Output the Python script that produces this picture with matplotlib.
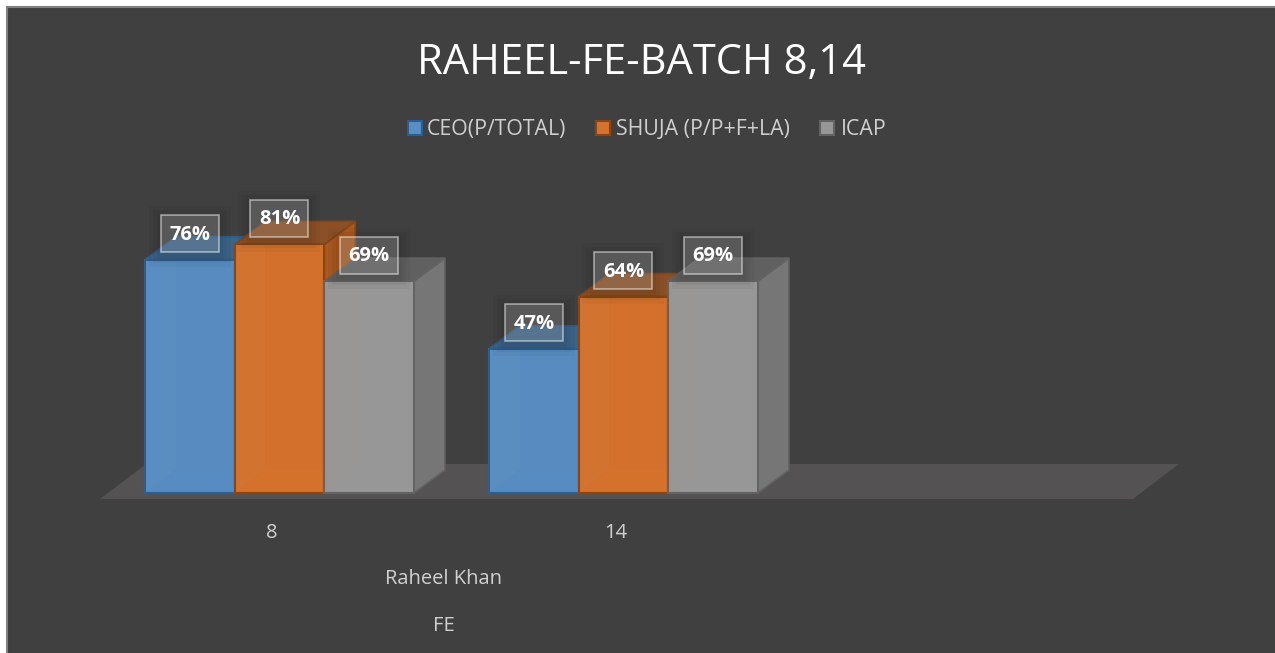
import matplotlib
matplotlib.use("Agg")
import matplotlib.pyplot as plt
from matplotlib.colors import to_rgba
from matplotlib.patches import Polygon, Rectangle

plt.rcParams['font.family'] = ['Open Sans', 'DejaVu Sans']

title = "RAHEEL-FE-BATCH 8,14"
categories = ["8", "14"]
series_names = ["CEO(P/TOTAL)", "SHUJA (P/P+F+LA)", "ICAP"]
ceo = [76, 47]
shuja = [81, 64]
icap = [69, 69]
level2 = "Raheel Khan"
level3 = "FE"

W, H = 1275, 653
PXX = 344.0
PXY = 3.07
X0 = 279.5
Y0 = 493.0
BG = "#404040"
TXT = "#d0d0d0"

fig = plt.figure(figsize=(W / 100, H / 100), dpi=100, facecolor="white")
ax = fig.add_axes([0, 0, 1, 1])
ax.set_xlim(-X0 / PXX, (W - X0) / PXX)
ax.set_ylim(-(H - Y0) / PXY, Y0 / PXY)
ax.axis("off")


def xd(px):
    return (px - X0) / PXX


def yd(py):
    return (Y0 - py) / PXY


ax.add_patch(Rectangle((xd(6.5), yd(670)), (W + 20) / PXX, (670 - 6.5) / PXY,
                       fc=BG, ec="#808080", lw=1.5, zorder=0))

ax.add_patch(Polygon([(xd(100), yd(499)), (xd(1133), yd(499)), (xd(1179), yd(464)), (xd(146), yd(464))],
                     closed=True, fc="#545252", ec="none", zorder=1))

bw = 89.6 / PXX
dx = 31 / PXX
dy = 23 / PXY
ALPHA = 0.85
# front, side, top, edge, back wall, left wall, floor
styles = [
    ("#5a8dc1", "#3f6f9f", "#3c6488", "#2a5f92", "#5089c0", "#5f8fbd", "#4a8ccb"),
    ("#d3712d", "#a95a22", "#8c5026", "#8a4512", "#d0702c", "#d67f42", "#e07424"),
    ("#989898", "#767676", "#606060", "#636363", "#929292", "#a3968b", "#969696"),
]
all_vals = [ceo, shuja, icap]

for c in range(len(categories)):
    for s in range(3):
        v = all_vals[s][c]
        left = c - 1.5 * bw + s * bw
        front, side, top, edge, back, lwall, floor = styles[s]
        z = 3 + c * 10 + s
        # inner faces, seen through the translucent front
        ax.add_patch(Rectangle((left + dx, dy), bw, v, fc=back, ec="none", zorder=z))
        ax.add_patch(Polygon([(left, 0), (left + dx, dy), (left + dx, v + dy), (left, v)],
                             closed=True, fc=lwall, ec="none", zorder=z))
        ax.add_patch(Polygon([(left, 0), (left + bw, 0), (left + bw + dx, dy), (left + dx, dy)],
                             closed=True, fc=floor, ec="none", zorder=z))
        # outer faces
        ax.add_patch(Polygon([(left + bw, 0), (left + bw + dx, dy), (left + bw + dx, v + dy), (left + bw, v)],
                             closed=True, fc=side, ec=edge, lw=1.2, zorder=z + 0.1))
        ax.add_patch(Polygon([(left, v), (left + bw, v), (left + bw + dx, v + dy), (left + dx, v + dy)],
                             closed=True, fc=top, ec=edge, lw=1.2, zorder=z + 0.1))
        ax.add_patch(Rectangle((left, 0), bw, v, fc=to_rgba(front, ALPHA), ec=edge, lw=1.5, zorder=z + 0.2))

BOXW = 58 / PXX
BOXH = 37 / PXY
for c in range(len(categories)):
    for s in range(3):
        v = all_vals[s][c]
        cx = c - 1.5 * bw + s * bw + bw / 2
        cy = v + 26 / PXY
        # soft shadow under the label box
        for grow in (12, 8, 4):
            w = (58 + 2 * grow) / PXX
            h = (37 + 2 * grow) / PXY
            ax.add_patch(Rectangle((cx - w / 2, cy - h / 2 - 3 / PXY), w, h, fc=(0, 0, 0, 0.035),
                                   ec="none", zorder=49))
        ax.add_patch(Rectangle((cx - BOXW / 2, cy - BOXH / 2), BOXW, BOXH, fc=(1, 1, 1, 0.17),
                               ec=(1, 1, 1, 0.5), lw=1.2, zorder=50))
        ax.text(cx, cy - 1 / PXY, f"{v}%", color="white", fontsize=14.5, fontweight="bold",
                ha="center", va="center", zorder=51)

for c, lab in enumerate(categories):
    ax.text(c - 7.5 / PXX, yd(533), lab, color=TXT, fontsize=14.5, ha="center", va="center", zorder=60)
ax.text(xd(444), yd(579), level2, color=TXT, fontsize=14.5, ha="center", va="center", zorder=60)
ax.text(xd(444), yd(626), level3, color=TXT, fontsize=14.5, ha="center", va="center", zorder=60)
ax.text(xd(641), yd(63), title, color="white", fontsize=30, ha="center", va="center", zorder=60)

leg_x = [[408, 427], [596, 616], [820, 841]]
leg_fill = ["#5b8fc4", "#d5722f", "#979797"]
for (sw, tx), name, st, fill in zip(leg_x, series_names, styles, leg_fill):
    ax.add_patch(Rectangle((xd(sw), yd(135.5)), 14 / PXX, 14 / PXY, fc=fill, ec=st[3], lw=1.5, zorder=60))
    ax.text(xd(tx), yd(129.5), name, color=TXT, fontsize=15.3, ha="left", va="center", zorder=60)

fig.savefig("out.png", dpi=100, facecolor="white")
